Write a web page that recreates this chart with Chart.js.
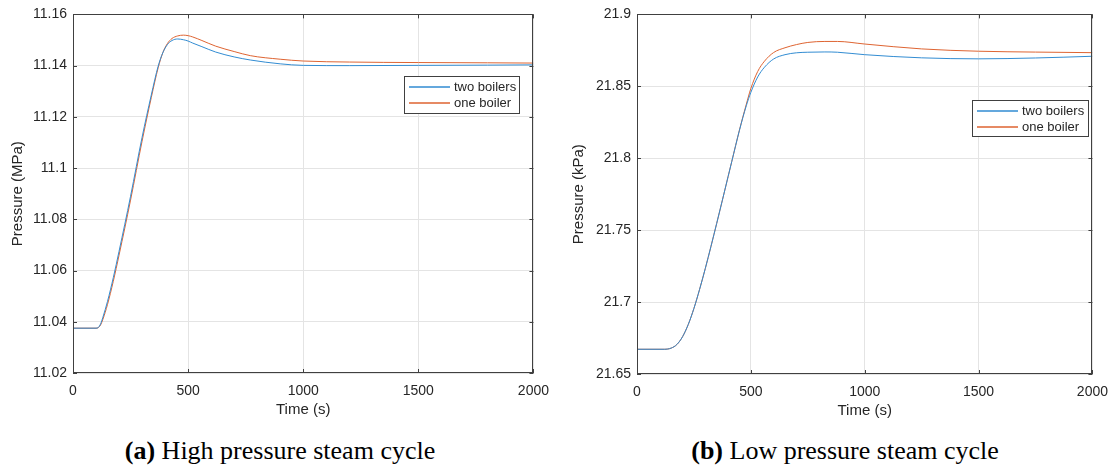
<!DOCTYPE html>
<html>
<head>
<meta charset="utf-8">
<script src="https://cdn.jsdelivr.net/npm/chart.js@4.4.1/dist/chart.umd.min.js"></script>
<style>
  body { margin: 0; background: #fff; width: 1118px; height: 470px; position: relative; overflow: hidden; }
  canvas { position: absolute; top: 0; }
  #c1 { left: 0; }
  #c2 { left: 559px; }
  .cap { position: absolute; top: 436px; font-family: 'Liberation Serif', 'Times New Roman', serif; font-size: 26px; line-height: 30px; color: #000; white-space: nowrap; transform: translateX(-50%); }
</style>
</head>
<body>
<canvas id="c1" width="559" height="420"></canvas>
<canvas id="c2" width="559" height="421"></canvas>
<div class="cap" style="left:280px"><b>(a)</b> High pressure steam cycle</div>
<div class="cap" style="left:845px"><b>(b)</b> Low pressure steam cycle</div>
<script>
// high pressure cycle
const hpTime = [0,100,110,120,130,150,175,200,250,300,340,370,390,410,430,455,480,500,520,560,620,700,770,900,1000,1200,1500,1800,2000];
const hpTwo = [11.0375,11.0375,11.0378,11.0392,11.0418,11.048,11.0572,11.0675,11.089,11.112,11.1285,11.1398,11.145,11.1482,11.1498,11.1504,11.1501,11.1496,11.1488,11.1474,11.1453,11.1434,11.1422,11.1407,11.1401,11.14,11.1401,11.1402,11.1403];
const hpOne = [11.0375,11.0375,11.0377,11.0388,11.041,11.0468,11.0558,11.066,11.0875,11.1105,11.1275,11.1392,11.145,11.1486,11.1506,11.1516,11.1519,11.1517,11.1512,11.1498,11.1476,11.1455,11.1439,11.1425,11.1418,11.1414,11.1412,11.1411,11.141];
const hpTicks = [11.02, 11.04, 11.06, 11.08, 11.1, 11.12, 11.14, 11.16];

// low pressure cycle
const lpTime = [0,120,150,175,200,225,250,275,300,350,400,416,450,480,500,530,560,600,650,700,750,825,880,1000,1250,1500,1750,2000];
const lpTwo = [21.6672,21.6672,21.668,21.6705,21.6759,21.6844,21.6956,21.7089,21.7234,21.7547,21.7872,21.7976,21.8195,21.8365,21.8458,21.8565,21.8633,21.869,21.872,21.8733,21.8737,21.8739,21.8737,21.872,21.8698,21.8691,21.8697,21.8709];
const lpOne = [21.6672,21.6672,21.668,21.6705,21.6759,21.6844,21.6956,21.7089,21.7234,21.7547,21.7872,21.7976,21.8197,21.8375,21.8485,21.8603,21.8675,21.8735,21.8768,21.879,21.8805,21.8812,21.8812,21.8794,21.876,21.8744,21.8738,21.8734];
const lpTicks = [21.65, 21.7, 21.75, 21.8, 21.85, 21.9];

const timeTicks = [0, 500, 1000, 1500, 2000];
const seriesNames = ['two boilers', 'one boiler'];
const seriesColors = ['rgb(50,140,210)', 'rgb(222,100,50)'];
const axisCol = '#404040';
const font = "'Liberation Sans', Arial, sans-serif";

// MATLAB style box with inward ticks, plus legend inside the axes
const boxPlugin = {
  id: 'box',
  afterDatasetsDraw(chart) {
    const {ctx, chartArea: a, scales: {x, y}} = chart;
    ctx.save();
    ctx.strokeStyle = axisCol;
    ctx.lineWidth = 1;
    ctx.strokeRect(Math.round(a.left) + 0.5, Math.round(a.top) + 0.5, Math.round(a.right - a.left) - 1, Math.round(a.bottom - a.top) - 1);
    ctx.beginPath();
    const tl = 4;
    x.ticks.forEach(t => {
      const px = Math.round(x.getPixelForValue(t.value)) + 0.5;
      ctx.moveTo(px, a.bottom); ctx.lineTo(px, a.bottom - tl);
      ctx.moveTo(px, a.top); ctx.lineTo(px, a.top + tl);
    });
    y.ticks.forEach(t => {
      const py = Math.round(y.getPixelForValue(t.value)) + 0.5;
      ctx.moveTo(a.left, py); ctx.lineTo(a.left + tl, py);
      ctx.moveTo(a.right, py); ctx.lineTo(a.right - tl, py);
    });
    ctx.stroke();

    const lg = chart.options.plugins.box;
    const bx = Math.round(a.left + lg.dx), by = Math.round(a.top + lg.dy);
    ctx.fillStyle = '#fff';
    ctx.fillRect(bx, by, lg.w, lg.h);
    ctx.strokeStyle = axisCol;
    ctx.strokeRect(bx + 0.5, by + 0.5, lg.w, lg.h);
    ctx.font = '13px ' + font;
    ctx.textBaseline = 'middle';
    for (let i = 0; i < seriesNames.length; i++) {
      const ry = by + 11 + i * 16;
      ctx.fillStyle = seriesColors[i];
      ctx.fillRect(bx + 5, ry - 0.75, 41, 1.5);
      ctx.fillStyle = '#262626';
      ctx.fillText(seriesNames[i], bx + 50, ry + 0.5);
    }
    ctx.restore();
  }
};

function makeChart(id, time, two, one, yTicks, yTitle, yWidth, titlePad, legend) {
  new Chart(document.getElementById(id), {
    type: 'line',
    data: {
      datasets: [
        { label: seriesNames[0], data: time.map((t, i) => ({x: t, y: two[i]})), borderColor: seriesColors[0], borderWidth: 1 },
        { label: seriesNames[1], data: time.map((t, i) => ({x: t, y: one[i]})), borderColor: seriesColors[1], borderWidth: 1 }
      ]
    },
    options: {
      responsive: false,
      animation: false,
      layout: { padding: { left: 0, right: 20, top: 10, bottom: 0 } },
      elements: { point: { radius: 0 }, line: { cubicInterpolationMode: 'monotone' } },
      scales: {
        x: {
          type: 'linear', min: 0, max: 2000,
          afterBuildTicks: s => { s.ticks = timeTicks.map(v => ({value: v})); },
          afterFit: s => { s.height = 47; },
          grid: { color: '#e4e4e4', drawTicks: false },
          border: { display: false },
          ticks: { padding: 10, color: '#262626', font: { family: font, size: 14 }, callback: v => String(v) },
          title: { display: true, text: 'Time (s)', color: '#262626', padding: { top: 0, bottom: 1 }, font: { family: font, size: 15 } }
        },
        y: {
          min: yTicks[0], max: yTicks[yTicks.length - 1],
          afterBuildTicks: s => { s.ticks = yTicks.map(v => ({value: v})); },
          afterFit: s => { s.width = yWidth; },
          grid: { color: '#e4e4e4', drawTicks: false },
          border: { display: false },
          ticks: { padding: 6, color: '#262626', font: { family: font, size: 14 }, callback: v => String(parseFloat(v.toFixed(3))) },
          title: { display: true, text: yTitle, color: '#262626', padding: { top: titlePad, bottom: 0 }, font: { family: font, size: 15 } }
        }
      },
      plugins: {
        legend: { display: false },
        tooltip: { enabled: false },
        box: legend
      }
    },
    plugins: [boxPlugin]
  });
}

makeChart('c1', hpTime, hpTwo, hpOne, hpTicks, 'Pressure (MPa)', 73, 9, { dx: 331, dy: 62, w: 115, h: 37 });
makeChart('c2', lpTime, lpTwo, lpOne, lpTicks, 'Pressure (kPa)', 78, 11, { dx: 335, dy: 86, w: 116, h: 36 });
</script>
</body>
</html>
